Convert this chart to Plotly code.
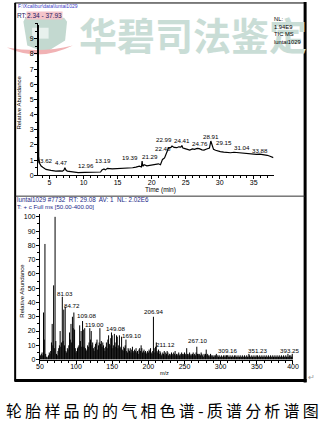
import plotly.graph_objects as go

W, H = 331, 425

# ---------------- data ----------------
chrom_rt = [3.29, 3.32, 3.35, 3.40, 3.53, 3.76, 4.00, 4.47, 5.2, 5.9, 6.5, 6.9, 7.1, 7.25, 7.4, 7.6,
            8.4, 9.2, 10.2, 11.1, 12.0, 12.5, 12.7, 13.0, 13.2, 13.5, 14.2, 14.9, 15.6, 16.3, 16.8,
            17.2, 17.7, 18.2, 18.5, 18.6, 18.7, 18.9, 19.3, 19.7, 20.2, 20.6, 21.0, 21.3, 21.6, 21.9,
            22.1, 22.3, 22.5, 22.8, 23.0, 23.3, 23.7, 24.0, 24.3, 24.45, 24.6, 24.9, 25.3, 25.6, 26.0,
            26.3, 26.7, 27.0, 27.4, 27.7, 28.0, 28.2, 28.5, 28.7, 28.85, 29.1, 29.4, 29.7, 30.1, 30.6,
            31.0, 31.6, 32.1, 32.8, 33.1, 33.5, 34.0, 34.4, 34.9, 35.4, 35.9, 36.4, 36.7, 37.0, 37.4, 37.9]
chrom_int = [8, 99, 99, 12, 8, 6.1, 5.3, 3.9, 3.3, 2.8, 2.9, 2.8, 3.4, 5.0, 3.5, 2.8,
             2.3, 1.8, 1.9, 2.0, 2.1, 2.2, 3.5, 4.2, 3.6, 4.6, 4.3, 4.4, 4.6, 5.0, 4.8,
             5.0, 5.4, 6.1, 5.5, 9.4, 6.0, 7.0, 6.3, 6.6, 6.9, 7.2, 7.6, 7.0, 10.5, 11.5,
             13.8, 16.0, 18.2, 18.2, 19.3, 18.4, 18.2, 18.8, 18.6, 19.7, 18.0, 17.6, 17.0, 16.6, 17.4,
             17.1, 17.8, 17.6, 16.8, 16.6, 17.2, 17.6, 18.0, 22.6, 20.0, 17.1, 16.5, 16.0, 15.6, 15.3,
             15.0, 14.9, 15.2, 14.9, 14.6, 14.3, 14.5, 14.2, 14.0, 13.8, 14.0, 13.8, 13.5, 13.2, 12.6, 11.7]

chrom_labels = ["3.62", "4.47", "12.96", "13.19", "19.39", "21.29", "22.48", "22.99",
                "24.41", "24.76", "28.91", "29.15", "31.04", "33.88"]
chrom_label_rt = [4.5, 6.7, 10.4, 12.8, 16.8, 19.7, 21.6, 21.8, 24.5, 27.1, 28.8, 30.6, 33.3, 36.0]
chrom_label_int = [10.0, 8.5, 6.6, 10.0, 12.0, 12.5, 17.6, 23.6, 23.0, 21.0, 25.9, 21.5, 18.4, 16.4]

ms_mz_first = 50
ms_int = [
    1, 3, 4, 5, 3, 33, 14, 81, 4, 2,        # 50-59
    1, 2, 3, 5, 4, 6, 12, 25, 10, 52,       # 60-69
    8, 100, 13, 4, 3, 6, 8, 10, 20, 9,      # 70-79
    12, 44, 13, 35, 10, 37, 6, 5, 8, 7,     # 80-89
    10, 19, 14, 25, 12, 30, 22, 33, 21, 8,  # 90-99
    5, 6, 8, 9, 10, 24, 13, 20, 9, 27,      # 100-109
    21, 9, 22, 8, 6, 7, 10, 9, 12, 22,      # 110-119
    14, 20, 10, 12, 8, 6, 9, 11, 12, 14,    # 120-129
    7, 10, 12, 22, 11, 13, 9, 12, 10, 8,    # 130-139
    6, 9, 12, 8, 14, 17, 11, 10, 15, 19,    # 140-149
    17, 8, 10, 18, 12, 9, 17, 16, 8, 10,    # 150-159
    17, 9, 8, 16, 7, 6, 9, 8, 10, 14,       # 160-169
    6, 5, 8, 7, 6, 8, 5, 7, 9, 6,           # 170-179
    5, 7, 6, 8, 5, 6, 4, 7, 8, 6,           # 180-189
    10, 8, 5, 6, 7, 5, 6, 4, 5, 6,          # 190-199
    5, 7, 6, 8, 5, 4, 6, 30, 8, 5,          # 200-209
    9, 12, 6, 5, 7, 4, 6, 5, 3, 4,          # 210-219
    5, 4, 6, 3, 5, 4, 6, 5, 3, 4,           # 220-229
    4, 3, 5, 4, 3, 5, 4, 6, 3, 4,           # 230-239
    3, 4, 5, 3, 4, 3, 5, 4, 3, 4,           # 240-249
    5, 4, 3, 8, 4, 3, 4, 5, 3, 4,           # 250-259
    3, 4, 5, 3, 4, 3, 5, 9, 4, 4,           # 260-269
    3, 4, 3, 5, 4, 3, 2, 4, 3, 4,           # 270-279
    7, 3, 4, 3, 2, 3, 4, 3, 2, 3,           # 280-289
    2, 3, 2, 3, 4, 2, 3, 2, 3, 2,           # 290-299
    2, 3, 2, 2, 3, 2, 3, 2, 3, 3,           # 300-309
    3, 2, 2, 3, 2, 2, 3, 2, 2, 3,           # 310-319
    2, 3, 2, 2, 3, 2, 2, 3, 2, 2,           # 320-329
    3, 2, 2, 3, 2, 2, 3, 2, 2, 4,           # 330-339
    3, 2, 2, 3, 2, 2, 3, 2, 2, 3,           # 340-349
    2, 3, 2, 2, 3, 2, 2, 3, 2, 2,           # 350-359
    3, 2, 2, 3, 2, 2, 3, 2, 2, 3,           # 360-369
    2, 2, 3, 2, 2, 3, 2, 2, 3, 2,           # 370-379
    2, 3, 2, 2, 3, 2, 2, 3, 2, 2,           # 380-389
    3, 2, 2, 4, 2, 3, 2, 3, 2, 4,           # 390-399
    2,                                      # 400
]
ms_mz = [ms_mz_first + i for i in range(len(ms_int))]

ms_labels = ["71.02", "81.03", "84.72", "109.08", "119.00", "149.08", "169.10",
             "206.94", "211.12", "267.10", "309.16", "351.23", "393.25"]
ms_label_mz = [69.7, 84.2, 94.9, 114.3, 125.7, 155.2, 177.3, 206.8, 223.6, 267.8, 309.4, 351.6, 394.5]
ms_label_int = [103.5, 46.5, 38.2, 30.6, 24.3, 21.5, 16.7, 34.0, 10.4, 13.2, 6.3, 6.3, 6.3]

top_ytick_vals = [0, 10, 20, 30, 40, 50, 60, 70, 80, 90]
top_ytick_text = ["0", "1", "2", "3", "4", "5", "6", "7", "8", "9"]
top_xtick_vals = [5, 10, 15, 20, 25, 30, 35]
ms_xtick_vals = [50, 100, 150, 200, 250, 300, 350, 400]
ms_ytick_vals = [0, 10, 20, 30, 40, 50, 60, 70, 80, 90, 100]

caption = "轮胎样品的的气相色谱-质谱分析谱图"
watermark = "华碧司法鉴定"
tic_info = ["NL:", "1.94E9", "TIC MS", "luntai1029"]


# ---------------- helpers (pixel -> paper) ----------------
def px(x):
    return x / W


def py(y):
    return 1 - y / H


def path(points):
    return "M " + " L ".join(f"{px(a):.5f},{py(b):.5f}" for a, b in points) + " Z"


FONT = "Liberation Sans, Arial, sans-serif"

fig = go.Figure()

fig.add_trace(go.Scatter(x=chrom_rt, y=chrom_int, mode="lines",
                         line=dict(color="black", width=1.2),
                         xaxis="x", yaxis="y", hoverinfo="skip"))

sx, sy = [], []
for m, v in zip(ms_mz, ms_int):
    sx += [m, m, None]
    sy += [0, v, None]
fig.add_trace(go.Scatter(x=sx, y=sy, mode="lines", line=dict(color="black", width=1),
                         xaxis="x2", yaxis="y2", hoverinfo="skip"))

axis_common = dict(showline=True, linecolor="black", linewidth=1, ticks="outside",
                   tickcolor="black", tickwidth=1, ticklen=3, showgrid=False, zeroline=False,
                   tickfont=dict(family=FONT, size=7, color="black"), fixedrange=True)

fig.update_layout(
    width=W, height=H,
    margin=dict(l=0, r=0, t=0, b=0),
    paper_bgcolor="white", plot_bgcolor="rgba(0,0,0,0)",
    showlegend=False,
    xaxis=dict(domain=[px(35), px(278)], range=[3.29, 37.93], anchor="y",
               tickvals=top_xtick_vals, ticklabelstandoff=-3,
               minor=dict(dtick=1, tick0=0, ticks="outside", ticklen=2, tickcolor="black"),
               **axis_common),
    yaxis=dict(domain=[py(176), py(22)], range=[0, 100.5], anchor="x",
               tickvals=top_ytick_vals, ticktext=top_ytick_text, ticklabelstandoff=-1,
               minor=dict(dtick=5, tick0=0, ticks="outside", ticklen=2, tickcolor="black"),
               **axis_common),
    xaxis2=dict(domain=[px(37), px(298)], range=[50, 400], anchor="y2",
                tickvals=ms_xtick_vals, ticklabelstandoff=-3,
                minor=dict(dtick=10, tick0=0, ticks="outside", ticklen=2, tickcolor="black"),
                **axis_common),
    yaxis2=dict(domain=[py(362), py(215)], range=[0, 102], anchor="x2",
                tickvals=ms_ytick_vals, ticklabelstandoff=-1,
                minor=dict(dtick=5, tick0=0, ticks="outside", ticklen=2, tickcolor="black"),
                **axis_common),
)

shapes = []
# watermark logo (paper coordinates)
shapes.append(dict(type="path", xref="paper", yref="paper", layer="below",
                   path=path([(22, 17), (62, 17), (65, 21), (63, 40), (43, 52), (24, 45), (20, 21)]),
                   fillcolor="#c3d9d0", line=dict(width=0)))
shapes.append(dict(type="rect", xref="paper", yref="paper", layer="below",
                   x0=px(29), x1=px(46), y0=py(38), y1=py(27),
                   fillcolor="#e8f1ed", line=dict(width=0)))
shapes.append(dict(type="path", xref="paper", yref="paper", layer="below",
                   path=(f"M {px(3):.5f},{py(47):.5f} Q {px(36):.5f},{py(62):.5f} {px(71):.5f},{py(45):.5f} "
                         f"Q {px(38):.5f},{py(53):.5f} {px(3):.5f},{py(47):.5f} Z"),
                   fillcolor="#f1b2b4", line=dict(width=0)))
# frame
shapes.append(dict(type="line", xref="paper", yref="paper", x0=px(11), x1=px(311), y0=py(2), y1=py(2),
                   line=dict(color="black", width=1)))
shapes.append(dict(type="line", xref="paper", yref="paper", x0=px(11.5), x1=px(11.5), y0=py(2), y1=py(384),
                   line=dict(color="black", width=2)))
shapes.append(dict(type="line", xref="paper", yref="paper", x0=px(310.5), x1=px(310.5), y0=py(1), y1=py(385),
                   line=dict(color="black", width=3)))
shapes.append(dict(type="line", xref="paper", yref="paper", x0=px(11), x1=px(312), y0=py(383), y1=py(383),
                   line=dict(color="black", width=3)))
shapes.append(dict(type="line", xref="paper", yref="paper", x0=px(12), x1=px(310), y0=py(197), y1=py(197),
                   line=dict(color="#333333", width=1)))
fig.update_layout(shapes=shapes)

ann = []


def text(x, y, s, size=6.5, color="black", xanchor="left", yanchor="middle", **kw):
    family = kw.pop("family", FONT)
    weight = kw.pop("weight", "normal")
    ann.append(dict(x=px(x), y=py(y), xref="paper", yref="paper", text=s, showarrow=False,
                    xanchor=xanchor, yanchor=yanchor, borderpad=0,
                    font=dict(family=family, size=size, color=color, weight=weight), **kw))


# watermark text
text(76, 33, watermark, size=38, color="#c9ddd6", family="Noto Sans CJK SC", weight="bold")

text(13, 5, "F:\\Xcalibur\\data\\luntai1029", size=5, color="#3a3ac8")
text(12.5, 15, "RT:", size=6.5, color="#202060")
text(23, 15, "2.34 - 37.93", size=6.5, color="#202060", bgcolor="#f4c4ca")
text(277, 30, "<br>".join(tic_info), size=5.8, yanchor="middle", align="left")
text(161, 190.5, "Time (min)", size=6.5, xanchor="center")
text(16, 103, "Relative Abundance", size=6, xanchor="center", textangle=-90)
text(12, 200, "luntai1029 #7732  RT: 29.08  AV: 1  NL: 2.02E6", size=6.3, color="#1c2a8a")
text(12, 207.5, "T: + c Full ms [50.00-400.00]", size=6.1, color="#1c2a8a")
text(19, 292, "Relative Abundance", size=6, xanchor="center", textangle=-90)
text(165, 376, "m/z", size=5.5, xanchor="center")
text(317, 380, "↵", size=8, color="#9a9a9a", xanchor="center")

for s, t, v in zip(chrom_labels, chrom_label_rt, chrom_label_int):
    ann.append(dict(x=t, y=v, xref="x", yref="y", text=s, showarrow=False,
                    xanchor="center", yanchor="middle", borderpad=0,
                    font=dict(family=FONT, size=6.2, color="black")))
for s, m, v in zip(ms_labels, ms_label_mz, ms_label_int):
    ann.append(dict(x=m, y=v, xref="x2", yref="y2", text=s, showarrow=False,
                    xanchor="center", yanchor="middle", borderpad=0,
                    font=dict(family=FONT, size=6.2, color="black")))

text(1, 413, "\u2009".join(caption), size=16, color="black", family="Noto Sans CJK SC")
text(321, 416, "↵", size=7, color="#777777", xanchor="center")

fig.update_layout(annotations=ann)
fig.write_html("out.html")
